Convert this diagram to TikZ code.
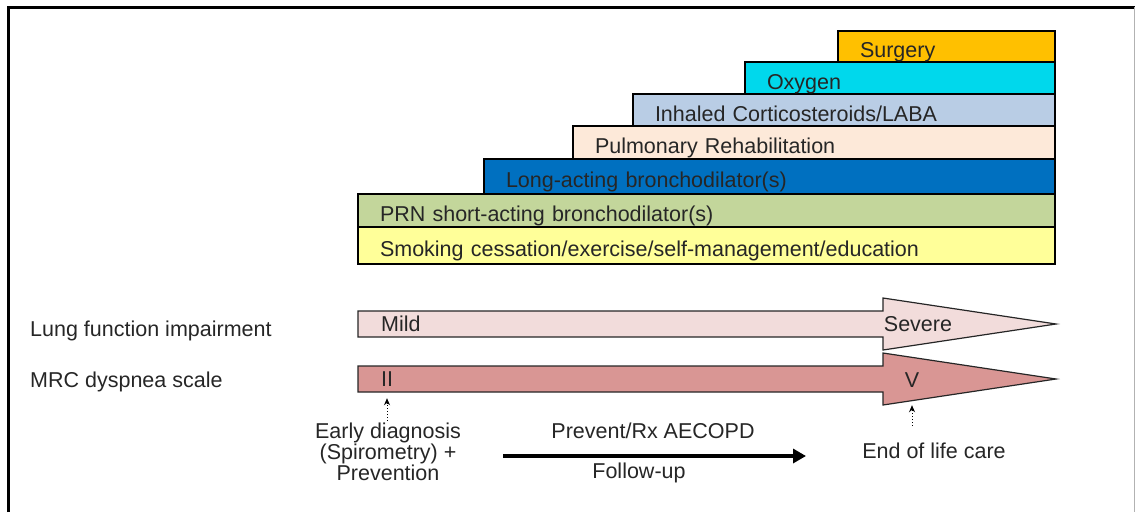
\documentclass[tikz,border=0pt]{standalone}
\usepackage{fontspec}
\setmainfont{Liberation Sans}
\usetikzlibrary{positioning,arrows.meta}

\definecolor{surgcol}{HTML}{FFC000}
\definecolor{oxycol}{HTML}{00D8EC}
\definecolor{icscol}{HTML}{B9CDE5}
\definecolor{rehabcol}{HTML}{FDE9D9}
\definecolor{labacol}{HTML}{0070C0}
\definecolor{prncol}{HTML}{C3D69B}
\definecolor{smokecol}{HTML}{FFFF99}
\definecolor{lungcol}{HTML}{F2DCDB}
\definecolor{mrccol}{HTML}{D99694}

\begin{document}
\begin{tikzpicture}[x=1pt,y=-1pt,
  every node/.style={font=\fontsize{21.5}{19.5}\selectfont, text=black!85, inner sep=0pt},
  stepbox/.style={draw=black, line width=1.4pt, outer sep=0pt, inner xsep=22pt, inner ysep=0pt,
    text height=22pt, text depth=0pt, align=left},
  bigarrow/.style={draw=black!85, line width=1.2pt, line join=miter},
  dotarrow/.style={dotted, line width=1pt, -{Stealth[length=7pt,width=6pt]}}]

\useasboundingbox (0,0) rectangle (1135,512);

% frame
\draw[line width=3pt] (8,512) -- (8,7) -- (1135,7);
\draw[black!30, line width=1pt] (1134,7) -- (1134,512);

% treatment steps
\node[stepbox, fill=smokecol, text width=653pt, minimum height=37pt, anchor=south east] (smoke) at (1055,264) {Smoking cessation/exercise/self-management/education};
\node[stepbox, fill=prncol, text width=653pt, minimum height=33pt, above left=0pt and 0pt of smoke.north east] (prn) {PRN short-acting bronchodilator(s)};
\node[stepbox, fill=labacol, text width=527pt, minimum height=35pt, above left=0pt and 0pt of prn.north east] (laba) {Long-acting bronchodilator(s)};
\node[stepbox, fill=rehabcol, text width=438pt, minimum height=33pt, above left=0pt and 0pt of laba.north east] (rehab) {Pulmonary Rehabilitation};
\node[stepbox, fill=icscol, text width=378pt, minimum height=32pt, above left=0pt and 0pt of rehab.north east] (ics) {Inhaled Corticosteroids/LABA};
\node[stepbox, fill=oxycol, text width=266pt, minimum height=32pt, above left=0pt and 0pt of ics.north east] (oxy) {Oxygen};
\node[stepbox, fill=surgcol, text width=173pt, minimum height=31pt, above left=0pt and 0pt of oxy.north east] (surg) {Surgery};

% severity arrows
\draw[bigarrow, fill=lungcol] (358,311) -- (883,311) -- (883,298) -- (1056,324) -- (883,350) -- (883,337) -- (358,337) -- cycle;
\draw[bigarrow, fill=mrccol] (358,366) -- (883,366) -- (883,353) -- (1056,379) -- (883,405) -- (883,392) -- (358,392) -- cycle;

\node[anchor=base west] (lung) at (30,336) {Lung function impairment};
\node[anchor=base west] (mrc) at (30,387) {MRC dyspnea scale};
\node[anchor=base west] (mild) at (381,331) {Mild};
\node[anchor=base] (severe) at (918,331) {Severe};
\node[anchor=base] (ii) at (387,386) {II};
\node[anchor=base] (v) at (912,387) {V};

% care along the way
\node[align=center] (early) at (388,452) {Early diagnosis\\(Spirometry) +\\Prevention};
\node[anchor=base] (prevent) at (653,438) {Prevent/Rx AECOPD};
\node[anchor=base] (follow) at (639,478) {Follow-up};
\node[anchor=base] (endlife) at (934,458) {End of life care};
\coordinate (fstart) at (503,456);
\coordinate (fend) at (806,456);

\draw[line width=4pt, -{Triangle[length=13pt,width=14pt]}] (fstart) -- (fend);
\draw[dotarrow, shorten <=2pt, shorten >=12pt] (early.north -| ii.south) -- (ii.south);
\draw[dotarrow, shorten <=16pt, shorten >=18pt] (endlife.north -| v.south) -- (v.south);

\end{tikzpicture}
\end{document}
